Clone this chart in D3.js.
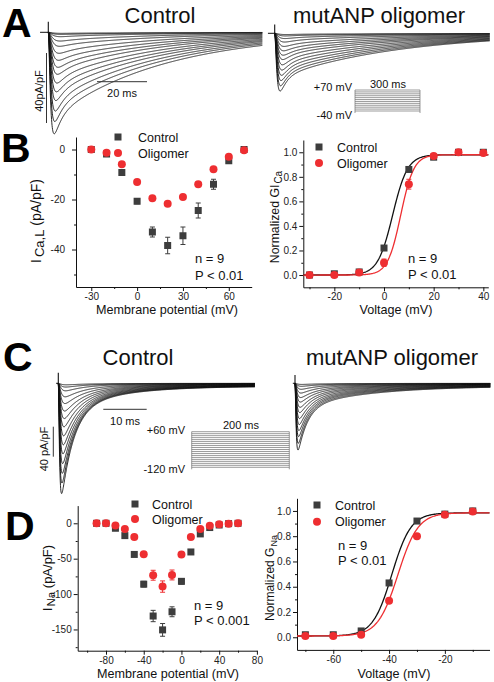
<!DOCTYPE html>
<html><head><meta charset="utf-8">
<script src="https://cdn.jsdelivr.net/npm/d3@7"></script>
<style>
body{margin:0;background:#fff}
svg{display:block}
text{font-family:"Liberation Sans",Arial,Helvetica,sans-serif}
</style></head>
<body><svg id="c" width="494" height="682"></svg>
<script>
// ================= DATA =================
// Panel A: peak amplitude (pA/pF) of each recorded Ca trace
const caTraceControlPeaks = [58, 51, 45, 39, 34, 29, 24, 20, 16, 12, 8, 5, 2.5, 1.2, 0.6];
const caTraceOligoPeaks   = [33, 30, 27, 24, 21, 18, 15, 12.5, 10, 7.5, 5, 3, 1.5, 0.7];
// Panel A protocol steps (mV)
const caProtocolSteps = [-40, -30, -20, -10, 0, 10, 20, 30, 40, 50, 60, 70];
// Panel C: peak amplitude (pA/pF) of each recorded Na trace
const naTraceControlPeaks = [147, 133, 120, 107, 94, 82, 70, 58, 47, 37, 27, 18, 10, 5, 2];
const naTraceOligoPeaks   = [89, 80, 71, 63, 55, 47, 39, 32, 25, 19, 13, 8, 4, 1.5];
// Panel C protocol steps (mV)
const naProtocolSteps = [-120, -110, -100, -90, -80, -70, -60, -50, -40, -30, -20, -10, 0, 10, 20, 30, 40, 50, 60];

// Panel B left: I-V of ICa,L
const caIVVolts      = [-30, -20, -10, 0, 10, 20, 30, 40, 50, 60, 70];
const caIVControl    = [0, -1.8, -9.2, -20.7, -33, -38.4, -34.5, -24.4, -13.9, -4.5, 0];
const caIVControlErr = [0.4, 0.6, 0.8, 1.0, 2.0, 3.3, 3.5, 3.0, 2.0, 1.0, 0.5];
const caIVOligo      = [0, -1.3, -5.9, -13, -19.5, -21.7, -19, -13.9, -7.9, -2.9, -0.3];
const caIVOligoErr   = [0.3, 0.5, 0.7, 1.0, 0.8, 0.8, 0.9, 0.8, 0.7, 0.5, 0.4];

// Panel B right: normalized conductance Ca
const caGVolts   = [-30, -20, -10, 0, 10, 20, 30, 40];
const caGControl = [0, 0.01, 0.025, 0.22, 0.86, 0.96, 1.0, 1.0];
const caGOligo   = [0, 0, 0.02, 0.1, 0.74, 0.97, 1.0, 0.995];
const caGOligoErr= [0.01, 0.01, 0.01, 0.03, 0.04, 0.01, 0.01, 0.01];
// Boltzmann fits [V1/2, k, bottom, top]
const caFitControl = [3.5, 3.0, 0, 0.98];
const caFitOligo   = [6.75, 2.63, 0, 0.98];

// Panel D left: I-V of INa
const naIVVolts      = [-90, -80, -70, -60, -50, -40, -30, -20, -10, 0, 10, 20, 30, 40, 50, 60];
const naIVControl    = [0, 0, -7, -17.4, -44, -86, -131, -150.6, -125, -82, -40.5, -15, -6, -2.4, -0.5, 0];
const naIVControlErr = [0.5, 0.5, 1, 1.5, 2, 4, 8, 9, 7, 4, 2, 1.5, 1, 0.5, 0.5, 0.5];
const naIVOligo      = [0, 0, -3, -8, -19.3, -43.8, -73.4, -89.4, -73, -44.2, -19.3, -8, -3.3, -1.4, -0.5, 0];
const naIVOligoErr   = [0.5, 0.5, 1, 1, 2, 3, 7, 8, 7, 3, 2, 1, 1, 0.5, 0.5, 0.5];

// Panel D right: normalized conductance Na
const naGVolts   = [-70, -60, -50, -40, -30, -20, -10];
const naGControl = [0.02, 0.02, 0.05, 0.43, 0.92, 0.975, 1.0];
const naGOligo   = [0.01, 0.01, 0.02, 0.29, 0.80, 0.97, 0.995];
const naFitControl = [-39.0, 3.42, 0.01, 0.985];
const naFitOligo   = [-36.8, 3.6, 0.01, 0.985];

// ================= DRAW =================
const svg = d3.select('#c');
const DARK = '#3d3d3d', RED = '#ee2e31';

function txt(x, y, s, size, opts = {}) {
  return svg.append('text').attr('x', x).attr('y', y).attr('font-size', size)
    .attr('text-anchor', opts.anchor || 'start').attr('font-weight', opts.bold ? 'bold' : 'normal')
    .attr('fill', opts.fill || '#111').text(s);
}

// --- current traces ---
function shape(t, p) {
  if (t <= 0) return 0;
  const r = Math.pow(1 - Math.exp(-t / p.tr), 2);
  return r * (p.a * Math.exp(-t / p.tf) + (1 - p.a - p.s) * Math.exp(-t / p.ts) + p.s);
}
function tracePanel(c) {
  const x = d3.scaleLinear().domain([0, c.tEnd]).range([c.x0, c.x0 + c.tEnd * c.pxPerMs]);
  const y = d3.scaleLinear().domain([0, -c.barUnits]).range([c.base, c.base + c.barPx]);
  const g = svg.append('g');
  const n = c.peaks.length;
  const times = d3.range(0, c.tEnd + 1e-9, c.dt);
  const lerp = (r, f) => r[0] + (r[1] - r[0]) * f;
  c.peaks.forEach((P, i) => {
    const f = n > 1 ? i / (n - 1) : 0;
    const p = {tr: lerp(c.tr, f), a: c.a, tf: lerp(c.tf, f), ts: lerp(c.ts, f), s: c.s};
    const M = d3.max(times, t => shape(t, p));
    const pts = times.map(t => [t, -P * shape(t, p) / M]);
    g.append('path').attr('d', d3.line().x(d => x(d[0])).y(d => y(d[1]))(pts))
      .attr('fill', 'none').attr('stroke', '#111').attr('stroke-width', 0.9);
  });
  // pre-pulse baseline and capacitive artifact
  g.append('path').attr('d', d3.line()([[x(-c.pre), y(0)], [x(0), y(0)]]))
    .attr('stroke', '#111').attr('stroke-width', 1);
  g.append('path').attr('d', d3.line()([[x(0), y(c.spike)], [x(0), y(0)]]))
    .attr('stroke', '#111').attr('stroke-width', 1.1);
  return {x, y};
}
function scaleBars(sc, hx, hy, ms, vx, vy, units) {
  const hl = sc.x(ms) - sc.x(0), vl = sc.y(-units) - sc.y(0);
  svg.append('line').attr('x1', hx).attr('x2', hx + hl).attr('y1', hy).attr('y2', hy)
    .attr('stroke', '#333').attr('stroke-width', 1);
  svg.append('line').attr('x1', vx).attr('x2', vx).attr('y1', vy).attr('y2', vy + vl)
    .attr('stroke', '#333').attr('stroke-width', 1);
}
function protocol(c) {
  const t = d3.scaleLinear().domain([0, c.dur]).range([c.x0, c.x1]);
  const v = d3.scaleLinear().domain(d3.extent(c.steps)).range([c.yBot, c.yTop]);
  const g = svg.append('g').attr('stroke', '#707070').attr('stroke-width', 0.7);
  c.steps.forEach(s => g.append('line').attr('x1', t(0)).attr('x2', t(c.dur)).attr('y1', v(s)).attr('y2', v(s)));
  [0, c.dur].forEach(tt => g.append('line').attr('x1', t(tt)).attr('x2', t(tt))
    .attr('y1', v(d3.max(c.steps))).attr('y2', v(d3.min(c.steps)) + 2));
}

// Panel A
const aC = tracePanel({peaks: caTraceControlPeaks, x0: 48.3, pxPerMs: 2.5, tEnd: 85.6, dt: 0.1,
  base: 32.3, barUnits: 40, barPx: 70, tr: [0.7, 1.8], a: 0.4, tf: [2.8, 4], ts: [45, 45], s: 0, pre: 3.3, spike: 6});
tracePanel({peaks: caTraceOligoPeaks, x0: 274.7, pxPerMs: 2.5, tEnd: 86, dt: 0.1,
  base: 33.3, barUnits: 40, barPx: 70, tr: [0.7, 1.6], a: 0.5, tf: [2.6, 4], ts: [48, 48], s: 0, pre: 2.7, spike: 5});
scaleBars(aC, 97, 81.7, 20, 46.5, 53, 40);
svg.append('text').attr('transform', 'translate(39,91) rotate(-90)').attr('text-anchor', 'middle')
  .attr('dy', '0.35em').attr('font-size', 11).attr('fill', '#111').text('40pA/pF');
txt(122, 97, '20 ms', 11, {anchor: 'middle'});
protocol({steps: caProtocolSteps, dur: 300, x0: 355, x1: 420, yBot: 111, yTop: 90});
txt(352, 91, '+70 mV', 11, {anchor: 'end'});
txt(352, 119, '-40 mV', 11, {anchor: 'end'});
txt(388, 88, '300 ms', 11, {anchor: 'middle'});
txt(160, 23, 'Control', 22, {anchor: 'middle'});
txt(379, 23, 'mutANP oligomer', 22, {anchor: 'middle'});

// Panel C
const cC = tracePanel({peaks: naTraceControlPeaks, x0: 58.3, pxPerMs: 4.34, tEnd: 45.3, dt: 0.05,
  base: 383.3, barUnits: 40, barPx: 30, tr: [0.22, 0.6], a: 0.8, tf: [2.8, 5], ts: [12, 16], s: 0.02, pre: 0.5, spike: 14});
tracePanel({peaks: naTraceOligoPeaks, x0: 295, pxPerMs: 4.34, tEnd: 45, dt: 0.05,
  base: 383.3, barUnits: 40, barPx: 30, tr: [0.2, 0.5], a: 0.72, tf: [2.2, 4], ts: [16, 18], s: 0.03, pre: 0.5, spike: 11});
scaleBars(cC, 103.3, 409.3, 10, 53.3, 426.7, 40);
svg.append('text').attr('transform', 'translate(44,449) rotate(-90)').attr('text-anchor', 'middle')
  .attr('dy', '0.35em').attr('font-size', 11).attr('fill', '#111').text('40 pA/pF');
txt(125, 424.5, '10 ms', 11, {anchor: 'middle'});
protocol({steps: naProtocolSteps, dur: 200, x0: 191.7, x1: 289.3, yBot: 467.3, yTop: 431.7});
txt(185, 434, '+60 mV', 11, {anchor: 'end'});
txt(185, 473, '-120 mV', 11, {anchor: 'end'});
txt(241, 429, '200 ms', 11, {anchor: 'middle'});
txt(138, 365, 'Control', 22, {anchor: 'middle'});
txt(392, 364.5, 'mutANP oligomer', 22, {anchor: 'middle'});

// Panel letters
txt(2, 37, 'A', 41, {bold: true, fill: '#000'});
txt(1, 162, 'B', 41, {bold: true, fill: '#000'});
txt(3, 371, 'C', 41, {bold: true, fill: '#000'});
txt(5, 540, 'D', 41, {bold: true, fill: '#000'});

// --- scatter panels ---
function scatterPanel(o) {
  const x = d3.scaleLinear().domain(o.xd).range(o.xr);
  const y = d3.scaleLinear().domain(o.yd).range(o.yr);
  const g = svg.append('g');
  const axis = (gen, vals, size, fmt, tr, pad) => {
    const a = g.append('g').attr('transform', tr)
      .call(gen.tickValues(vals).tickSize(size).tickSizeOuter(0).tickPadding(pad).tickFormat(fmt));
    a.selectAll('text').attr('font-size', 10).attr('fill', '#222')
      .attr('font-family', '"Liberation Sans",Arial,sans-serif');
    a.selectAll('line,path').attr('stroke', '#111');
    return a;
  };
  const bx = `translate(0,${o.yr[0]})`, by = `translate(${o.xr[0]},0)`;
  axis(d3.axisBottom(x), o.xMinor, 2, () => '', bx, 0).select('.domain').remove();
  axis(d3.axisLeft(y), o.yMinor, 2, () => '', by, 0).select('.domain').remove();
  axis(d3.axisBottom(x), o.xMajor, 4, o.xf, bx, 2);
  axis(d3.axisLeft(y), o.yMajor, 4, o.yf, by, o.ypad);
  return {x, y, g};
}
function boltz(p) { return v => p[2] + (p[3] - p[2]) / (1 + Math.exp((p[0] - v) / p[1])); }
function fitLine(P, p, color) {
  const xs = d3.range(P.x.domain()[0], P.x.domain()[1] + 0.01, 0.25);
  const f = boltz(p);
  P.g.append('path').attr('d', d3.line().x(v => P.x(v)).y(v => P.y(f(v)))(xs))
    .attr('fill', 'none').attr('stroke', color).attr('stroke-width', 1.3);
}
function errBars(P, xs, ys, es, color) {
  xs.forEach((v, i) => {
    if (!es) return;
    const e = es[i], cx = P.x(v);
    const g = P.g.append('g').attr('stroke', color).attr('stroke-width', 1);
    g.append('line').attr('x1', cx).attr('x2', cx).attr('y1', P.y(ys[i] - e)).attr('y2', P.y(ys[i] + e));
    [ys[i] - e, ys[i] + e].forEach(w => g.append('line').attr('x1', cx - 2.5).attr('x2', cx + 2.5)
      .attr('y1', P.y(w)).attr('y2', P.y(w)));
  });
}
function squares(P, xs, ys) {
  P.g.selectAll(null).data(xs).enter().append('rect')
    .attr('x', (d) => P.x(d) - 3.5).attr('y', (d, i) => P.y(ys[i]) - 3.5)
    .attr('width', 7).attr('height', 7).attr('fill', DARK);
}
function circles(P, xs, ys) {
  P.g.selectAll(null).data(xs).enter().append('circle')
    .attr('cx', d => P.x(d)).attr('cy', (d, i) => P.y(ys[i])).attr('r', 4).attr('fill', RED);
}
function legend(xm, y1, y2, xt) {
  svg.append('rect').attr('x', xm - 3.5).attr('y', y1 - 3.5).attr('width', 7).attr('height', 7).attr('fill', DARK);
  svg.append('circle').attr('cx', xm).attr('cy', y2).attr('r', 4).attr('fill', RED);
  txt(xt, y1 + 4.5, 'Control', 12.5);
  txt(xt, y2 + 4.5, 'Oligomer', 12.5);
}
function stats(x, y1, y2, p) {
  txt(x, y1 + 4.5, 'n = 9', 13);
  txt(x, y2 + 4.5, p, 13);
}
function yLabel(cx, cy, main, sub, rest, size, subSize, gap) {
  const t = svg.append('text').attr('transform', `translate(${cx},${cy}) rotate(-90)`)
    .attr('text-anchor', 'middle').attr('dy', '0.35em').attr('font-size', size).attr('fill', '#111');
  t.append('tspan').text(main);
  t.append('tspan').attr('font-size', subSize).attr('dy', 3).attr('dx', gap).text(sub);
  if (rest) t.append('tspan').attr('dy', -3).text(rest);
}
const intFmt = d => String(d);
const dec1 = d => d3.format('.1f')(d).replace('−', '-');

// B left
const bL = scatterPanel({xd: [-40, 75], xr: [76, 251.7], yd: [-55, 5], yr: [287, 137],
  xMajor: [-30, 0, 30, 60], xMinor: [-15, 15, 45], yMajor: [0, -20, -40], yMinor: [-10, -30, -50],
  xf: intFmt, yf: intFmt, ypad: 7});
errBars(bL, caIVVolts, caIVControl, caIVControlErr, DARK);
squares(bL, caIVVolts, caIVControl);
errBars(bL, caIVVolts, caIVOligo, caIVOligoErr, RED);
circles(bL, caIVVolts, caIVOligo);
legend(118, 137, 153, 138);
stats(195, 258, 275, 'P < 0.01');
yLabel(36, 221, 'I', 'Ca,L', ' (pA/pF)', 14, 13, 2);
txt(167, 314, 'Membrane potential (mV)', 12.6, {anchor: 'middle'});

// B right
const bR = scatterPanel({xd: [-32.5, 42], xr: [303.3, 488.3], yd: [-0.1, 1.1], yr: [287.3, 140],
  xMajor: [-20, 0, 20, 40], xMinor: [-30, -10, 10, 30], yMajor: [0, 0.2, 0.4, 0.6, 0.8, 1.0],
  yMinor: [0.1, 0.3, 0.5, 0.7, 0.9], xf: intFmt, yf: dec1, ypad: 2});
fitLine(bR, caFitControl, '#111');
fitLine(bR, caFitOligo, RED);
squares(bR, caGVolts, caGControl);
errBars(bR, caGVolts, caGOligo, caGOligoErr, RED);
circles(bR, caGVolts, caGOligo);
legend(319, 147, 163, 337);
stats(408, 258, 274, 'P < 0.01');
yLabel(275, 217, 'Normalized GI', 'Ca', '', 12.3, 10, 1);
txt(396, 314, 'Voltage (mV)', 12.6, {anchor: 'middle'});

// D left
const dL = scatterPanel({xd: [-110, 80], xr: [77.7, 256.9], yd: [-180, 25], yr: [650.7, 505.6],
  xMajor: [-80, -40, 0, 40, 80], xMinor: [-100, -60, -20, 20, 60], yMajor: [0, -50, -100, -150],
  yMinor: [-25, -75, -125, -175], xf: intFmt, yf: intFmt, ypad: 2});
errBars(dL, naIVVolts, naIVControl, naIVControlErr, DARK);
squares(dL, naIVVolts, naIVControl);
errBars(dL, naIVVolts, naIVOligo, naIVOligoErr, RED);
circles(dL, naIVVolts, naIVOligo);
legend(135, 504, 519, 152);
stats(194, 605, 620, 'P < 0.001');
yLabel(47, 578, 'I', 'Na', ' (pA/pF)', 13, 11.5, 1);
txt(168, 678, 'Membrane potential (mV)', 12.6, {anchor: 'middle'});

// D right
const dR = scatterPanel({xd: [-73, -4], xr: [297, 489.5], yd: [-0.1, 1.1], yr: [649.9, 498.3],
  xMajor: [-60, -40, -20], xMinor: [-70, -50, -30, -10], yMajor: [0, 0.2, 0.4, 0.6, 0.8, 1.0],
  yMinor: [0.1, 0.3, 0.5, 0.7, 0.9], xf: intFmt, yf: dec1, ypad: 2});
fitLine(dR, naFitControl, '#111');
fitLine(dR, naFitOligo, RED);
squares(dR, naGVolts, naGControl);
circles(dR, naGVolts, naGOligo);
legend(317, 505, 521.7, 335);
stats(338, 545, 560, 'P < 0.01');
yLabel(270, 578, 'Normalized G', 'Na', '', 12, 9, 1);
txt(394, 678, 'Voltage (mV)', 12.6, {anchor: 'middle'});
</script></body></html>
